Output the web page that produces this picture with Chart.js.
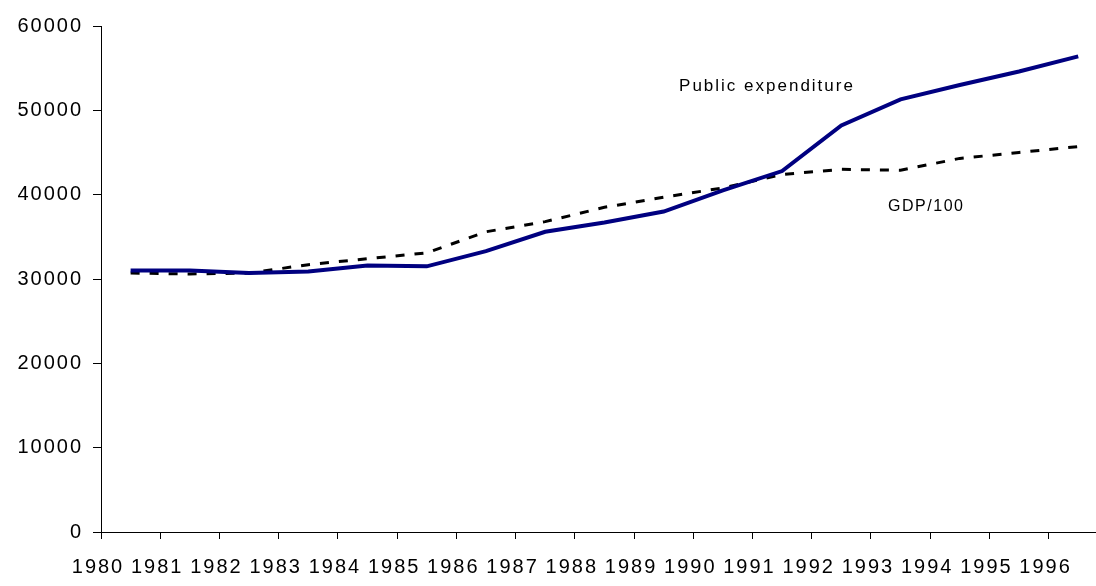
<!doctype html>
<html lang="en">
<head>
  <meta charset="UTF-8">
  <title>Public expenditure and GDP/100, 1980-1996</title>
  <script src="https://cdn.jsdelivr.net/npm/chart.js"></script>
  <style>
    html, body { margin: 0; padding: 0; background: #fff; }
    #wrap { width: 1096px; height: 586px; }
  </style>
</head>
<body>
<div id="wrap"><canvas id="expChart"></canvas></div>
<script>
  // years on the category axis (labels sit on the tick marks)
  const years = ['1980', '1981', '1982', '1983', '1984', '1985', '1986', '1987', '1988',
                 '1989', '1990', '1991', '1992', '1993', '1994', '1995', '1996'];

  // public expenditure
  const publicExp = [31000, 31000, 30700, 30900, 31600, 31500, 33300, 35600, 36700,
                     38000, 40500, 42800, 48200, 51300, 53000, 54600, 56400];

  // GDP divided by 100
  const gdp100 = [30700, 30600, 30700, 31700, 32400, 33100, 35600, 36800, 38500,
                  39700, 40800, 42400, 43000, 42900, 44300, 45000, 45700];

  const yTicks = [0, 10000, 20000, 30000, 40000, 50000, 60000];

  // in-plot captions, placed in data units
  const captions = [
    { text: 'Public expenditure', x: 9.76, y: 52900, size: 17, spacing: 2 },
    { text: 'GDP/100', x: 13.29, y: 38600, size: 16, spacing: 1.5 }
  ];

  // each point sits in the middle of its year's slot
  const toPoints = arr => arr.map((v, i) => ({ x: i + 0.5, y: v }));

  const FONT = "'Liberation Sans', Arial, sans-serif";
  const AXIS_SPACING = '2px';

  // widen all axis text a bit
  const spacingPlugin = {
    id: 'spacing',
    beforeUpdate(chart) { chart.ctx.letterSpacing = AXIS_SPACING; },
    beforeDraw(chart) { chart.ctx.letterSpacing = AXIS_SPACING; }
  };

  const captionPlugin = {
    id: 'captions',
    afterDraw(chart) {
      const { ctx, scales } = chart;
      ctx.save();
      ctx.fillStyle = '#000';
      ctx.textAlign = 'left';
      ctx.textBaseline = 'middle';
      captions.forEach(c => {
        ctx.font = c.size + 'px ' + FONT;
        ctx.letterSpacing = c.spacing + 'px';
        ctx.fillText(c.text, scales.x.getPixelForValue(c.x), scales.y.getPixelForValue(c.y));
      });
      ctx.restore();
    }
  };

  new Chart(document.getElementById('expChart'), {
    type: 'line',
    data: {
      datasets: [
        {
          label: 'Public expenditure',
          data: toPoints(publicExp),
          borderColor: '#000080',
          borderWidth: 4,
          pointRadius: 0,
          tension: 0
        },
        {
          label: 'GDP/100',
          data: toPoints(gdp100),
          borderColor: '#000',
          borderWidth: 3,
          borderDash: [9, 10],
          pointRadius: 0,
          tension: 0
        }
      ]
    },
    options: {
      responsive: true,
      maintainAspectRatio: false,
      animation: false,
      layout: { padding: { left: 18, top: 26, right: 0, bottom: 0 } },
      plugins: {
        legend: { display: false },
        tooltip: { enabled: false }
      },
      scales: {
        x: {
          type: 'linear',
          min: 0,
          max: 16.8,
          afterFit: scale => { scale.height = 54; },
          grid: { drawOnChartArea: false, drawTicks: true, tickLength: 7, color: '#000' },
          border: { display: true, color: '#000', width: 1 },
          ticks: {
            stepSize: 1,
            includeBounds: false,
            autoSkip: false,
            maxRotation: 0,
            padding: 16,
            labelOffset: -3,
            color: '#000',
            font: { family: FONT, size: 20 },
            callback: v => years[v]
          }
        },
        y: {
          min: 0,
          max: 60000,
          afterBuildTicks: scale => { scale.ticks = yTicks.map(v => ({ value: v })); },
          afterFit: scale => { scale.width = 83; },
          grid: { drawOnChartArea: false, drawTicks: true, tickLength: 8, color: '#000' },
          border: { display: true, color: '#000', width: 1 },
          ticks: {
            padding: 10,
            color: '#000',
            font: { family: FONT, size: 20 },
            callback: v => String(v)
          }
        }
      }
    },
    plugins: [spacingPlugin, captionPlugin]
  });
</script>
</body>
</html>
